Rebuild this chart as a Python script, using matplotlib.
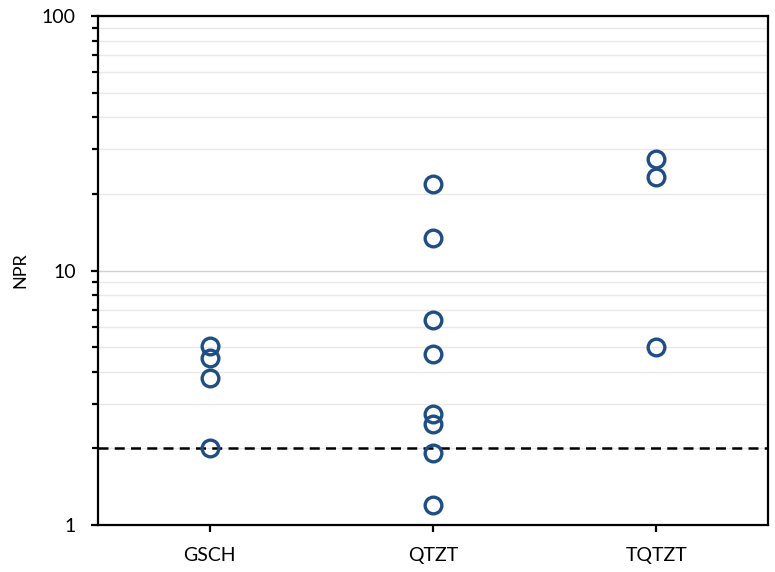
import matplotlib.pyplot as plt
import matplotlib.ticker as mticker

# data
categories = ["GSCH", "QTZT", "TQTZT"]
gsch_npr = [5.05, 4.55, 3.8, 2.0]
qtzt_npr = [21.9, 13.4, 6.4, 4.7, 2.73, 2.5, 1.92, 1.2]
tqtzt_npr = [27.4, 23.3, 5.0]
threshold = 2.0

plt.rcParams['font.family'] = ['Lato', 'DejaVu Sans']

fig = plt.figure(figsize=(7.75, 5.72), dpi=100)
ax = fig.add_axes([0.1265, 0.082, 0.8645, 0.89])

groups = [gsch_npr, qtzt_npr, tqtzt_npr]
for i, vals in enumerate(groups):
    ax.plot([i] * len(vals), vals, linestyle='none', marker='o', markersize=12,
            markerfacecolor='none', markeredgecolor='#1f4e84', markeredgewidth=2.4, zorder=3)

ax.axhline(threshold, color='black', linestyle=(0, (4, 2.5)), linewidth=1.8, zorder=2)

ax.set_yscale('log')
ax.set_ylim(1, 100)
ax.set_xlim(-0.5, 2.5)
ax.set_xticks(range(len(categories)))
ax.set_xticklabels(categories)
ax.yaxis.set_major_locator(mticker.FixedLocator([1, 10, 100]))
ax.yaxis.set_major_formatter(mticker.FixedFormatter(['1', '10', '100']))
ax.yaxis.set_minor_locator(mticker.LogLocator(base=10, subs=range(2, 10)))
ax.yaxis.set_minor_formatter(mticker.NullFormatter())

ax.grid(True, which='major', axis='y', color='#d0d0d0', linewidth=1.0)
ax.grid(True, which='minor', axis='y', color='#e8e8e8', linewidth=1.0)
ax.set_axisbelow(True)

for s in ax.spines.values():
    s.set_linewidth(1.6)
ax.tick_params(axis='both', which='major', direction='out', length=5, width=1.6, labelsize=14)
ax.tick_params(axis='x', which='major', pad=11)
ax.tick_params(axis='y', which='major', pad=11)
ax.tick_params(axis='y', which='minor', direction='out', length=4, width=1.6)
ax.set_ylabel('NPR', fontsize=13)
ax.yaxis.set_label_coords(-0.104, 0.5)

fig.savefig('out.png', dpi=100)
